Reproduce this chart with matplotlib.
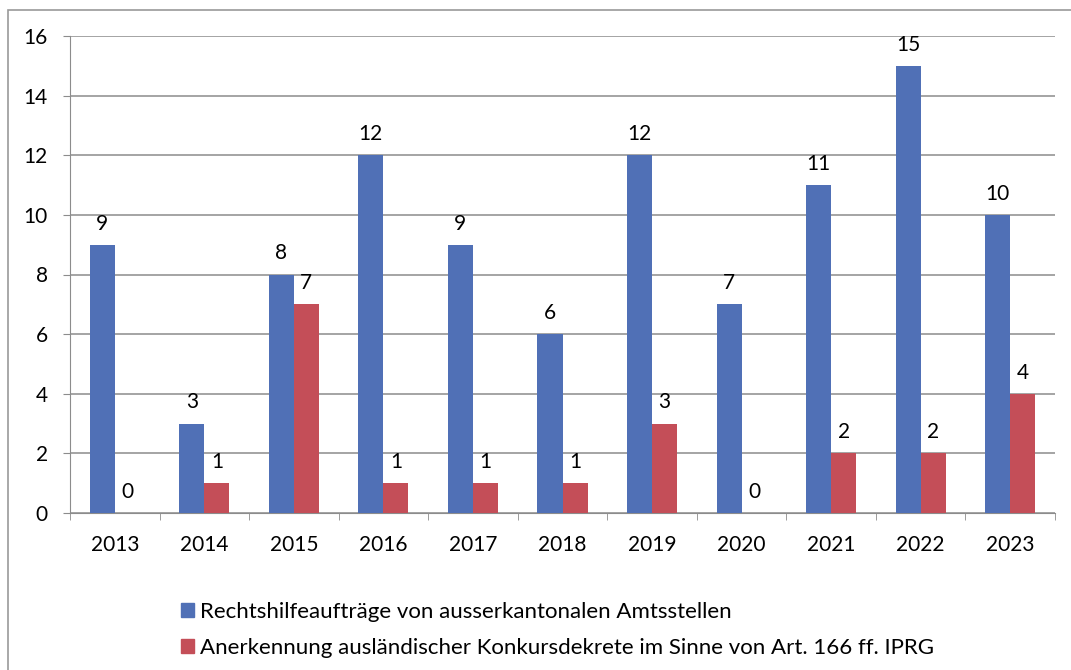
import matplotlib.pyplot as plt
import numpy as np
from matplotlib.patches import Rectangle, Patch

plt.rcParams['font.family'] = ['Lato', 'DejaVu Sans']

years = ['2013', '2014', '2015', '2016', '2017', '2018', '2019', '2020', '2021', '2022', '2023']
rechtshilfe = [9, 3, 8, 12, 9, 6, 12, 7, 11, 15, 10]
anerkennung = [0, 1, 7, 1, 1, 1, 3, 0, 2, 2, 4]
labels = ['Rechtshilfeaufträge von ausserkantonalen Amtsstellen',
          'Anerkennung ausländischer Konkursdekrete im Sinne von Art. 166 ff. IPRG']

blue = '#5070b6'
red = '#c44e58'

fig = plt.figure(figsize=(10.71, 6.70), dpi=100)
# outer chart frame
fig.patches.append(Rectangle((8 / 1071, -0.1), 1.2, 1 - 10 / 670 + 0.1, transform=fig.transFigure,
                             fill=False, edgecolor='#9a9a9a', linewidth=1.2))
ax = fig.add_axes([70 / 1071, 1 - 513 / 670, (1055 - 70) / 1071, (513 - 36) / 670])

x = np.arange(len(years))
w = 0.28
b1 = ax.bar(x - w / 2, rechtshilfe, w, color=blue, zorder=3)
b2 = ax.bar(x + w / 2, anerkennung, w, color=red, zorder=3)

for bars, vals in ((b1, rechtshilfe), (b2, anerkennung)):
    for rect, v in zip(bars, vals):
        ax.annotate(str(v), (rect.get_x() + rect.get_width() / 2, v), xytext=(0, 8),
                    textcoords='offset points', ha='center', va='bottom', fontsize=15)

ax.set_xlim(-0.5, len(years) - 0.5)
ax.set_ylim(0, 16)
ax.set_yticks(range(0, 17, 2))
ax.yaxis.grid(True, color='#8c8c8c', linewidth=1.1, zorder=0)
ax.set_xticks(x)
ax.set_xticklabels(years)
ax.set_xticks(np.arange(-0.5, len(years), 1), minor=True)
ax.tick_params(axis='x', which='major', length=0, pad=16, labelsize=15)
ax.tick_params(axis='x', which='minor', length=5, color='#8c8c8c')
ax.tick_params(axis='y', length=5, color='#8c8c8c', labelsize=15, pad=11)
for s in ('top', 'right'):
    ax.spines[s].set_visible(False)
ax.spines['left'].set_color('#8c8c8c')
ax.spines['bottom'].set_color('#8c8c8c')

handles = [Patch(color=blue), Patch(color=red)]
fig.legend(handles, labels, loc='upper left', bbox_to_anchor=(161 / 1071, 1 - 582 / 670),
           frameon=False, fontsize=16, handlelength=0.6, handleheight=0.6,
           handletextpad=0.25, labelspacing=0.7)

fig.savefig('out.png', dpi=100)
